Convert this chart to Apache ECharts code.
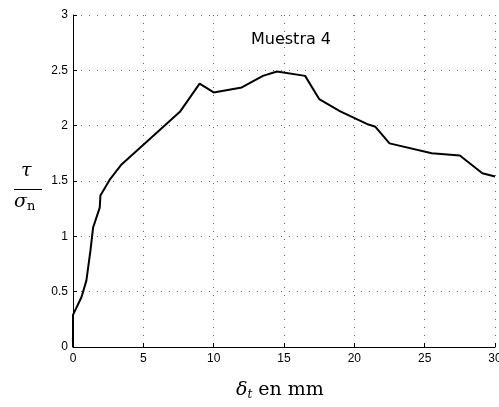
<!DOCTYPE html>
<html>
<head>
<meta charset="utf-8">
<script src="https://cdn.jsdelivr.net/npm/echarts@6/dist/echarts.min.js"></script>
<style>
  html, body { margin: 0; padding: 0; background: #fff; }
  #chart { width: 499px; height: 407px; }
</style>
</head>
<body>
<div id="chart"></div>
<script>
// desplazamiento (mm) y tau/sigma_n
const delta = [0, 0, 0.6, 0.95, 1.24, 1.43, 1.9, 1.95, 2.6, 3.45, 6.5, 7.6, 9, 10, 12, 13.5, 14.5, 16.5, 17.5, 19, 21, 21.5, 22.5, 25.5, 27.5, 29.1, 30]
const ratio = [0, 0.29, 0.45, 0.6, 0.87, 1.08, 1.26, 1.37, 1.51, 1.65, 2.0, 2.125, 2.38, 2.3, 2.345, 2.45, 2.49, 2.45, 2.24, 2.13, 2.01, 1.99, 1.84, 1.75, 1.73, 1.57, 1.54]
const titulo = 'Muestra 4'

const chart = echarts.init(document.getElementById('chart'))

const dotted = { show: true, lineStyle: { color: '#666', type: [1, 7], width: 1 } }

const option = {
  animation: false,
  grid: { left: 73, right: 4, top: 15, bottom: 60, outerBoundsMode: 'none', containLabel: false },
  title: {
    text: titulo,
    left: 286, top: 27, textAlign: 'center',
    textStyle: { fontFamily: 'DejaVu Sans', fontSize: 16, fontWeight: 'normal', color: '#000' }
  },
  xAxis: {
    type: 'value', min: 0, max: 30, interval: 5,
    axisLine: { lineStyle: { color: '#000', width: 1 } },
    axisTick: { inside: true, length: 4, lineStyle: { color: '#000' } },
    axisLabel: { color: '#000', fontFamily: 'Liberation Sans', fontSize: 12, margin: 6 },
    splitLine: dotted
  },
  yAxis: {
    type: 'value', min: 0, max: 3, interval: 0.5,
    axisLine: { show: true, lineStyle: { color: '#000', width: 1 } },
    axisTick: { show: true, inside: true, length: 4, lineStyle: { color: '#000' } },
    axisLabel: { color: '#000', fontFamily: 'Liberation Sans', fontSize: 12, margin: 5 },
    splitLine: dotted
  },
  series: [{
    type: 'line',
    data: delta.map((d, i) => [d, ratio[i]]),
    showSymbol: false,
    lineStyle: { color: '#000', width: 2 }
  }],
  graphic: [
    {
      type: 'text', left: 236, top: 381,
      style: {
        text: '{d|δ}{s|t}{r| en mm}',
        rich: {
          d: { fontFamily: 'DejaVu Serif', fontStyle: 'italic', fontSize: 19, fill: '#000' },
          s: { fontFamily: 'DejaVu Serif', fontStyle: 'italic', fontSize: 12, fill: '#000', padding: [9, 0, 0, 0] },
          r: { fontFamily: 'DejaVu Serif', fontSize: 19, fill: '#000' }
        }
      }
    },
    {
      type: 'text', left: 21, top: 162,
      style: { text: 'τ', font: 'italic 19px DejaVu Serif', fill: '#000' }
    },
    {
      type: 'rect', shape: { x: 14, y: 189, width: 28, height: 1 },
      style: { fill: '#000' }
    },
    {
      type: 'text', left: 14, top: 193,
      style: {
        text: '{a|σ}{b|n}',
        rich: {
          a: { fontFamily: 'DejaVu Serif', fontStyle: 'italic', fontSize: 19, fill: '#000' },
          b: { fontFamily: 'DejaVu Serif', fontSize: 13, fill: '#000', padding: [8, 0, 0, 0] }
        }
      }
    }
  ]
}

chart.setOption(option)
</script>
</body>
</html>
